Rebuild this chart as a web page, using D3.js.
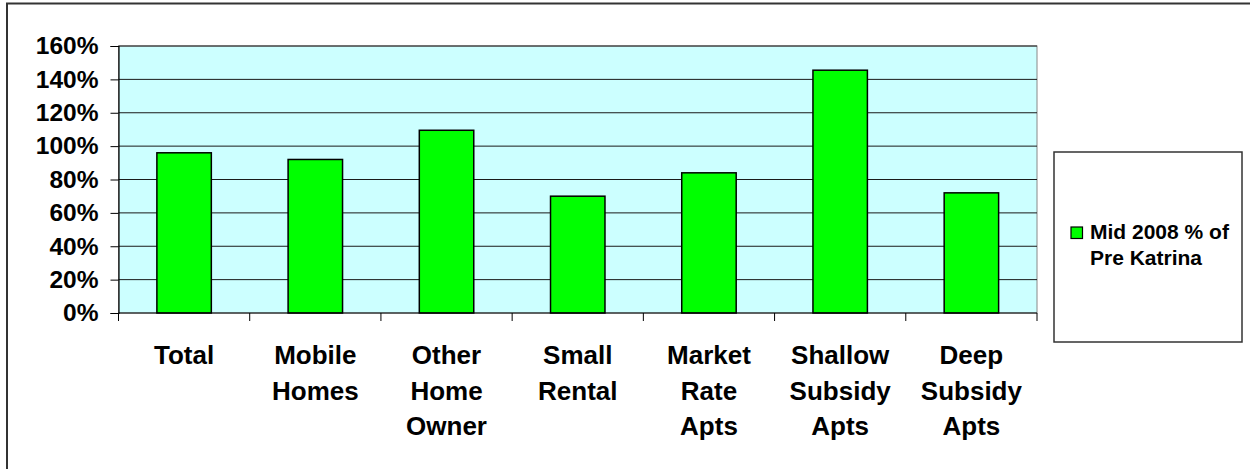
<!DOCTYPE html>
<html>
<head>
<meta charset="utf-8">
<script src="https://cdn.jsdelivr.net/npm/d3@7"></script>
<style>
  body { margin: 0; background: #fff; }
  text { font-family: "Liberation Sans", Arial, sans-serif; font-weight: bold; fill: #000; }
</style>
</head>
<body>
<script>
// chart data
var categories = ["Total", "Mobile Homes", "Other Home Owner", "Small Rental",
                  "Market Rate Apts", "Shallow Subsidy Apts", "Deep Subsidy Apts"];
var labelLines = [["Total"], ["Mobile", "Homes"], ["Other", "Home", "Owner"], ["Small", "Rental"],
                  ["Market", "Rate", "Apts"], ["Shallow", "Subsidy", "Apts"], ["Deep", "Subsidy", "Apts"]];
var values = [0.96, 0.92, 1.095, 0.70, 0.84, 1.455, 0.72];
var yTicks = [0, 0.2, 0.4, 0.6, 0.8, 1.0, 1.2, 1.4, 1.6];
var seriesName = ["Mid 2008 % of", "Pre Katrina"];

var width = 1250, height = 469;
var plot = {left: 118.5, top: 46, right: 1037, bottom: 313};

var svg = d3.select("body").append("svg")
    .attr("width", width)
    .attr("height", height);

// outer frame
svg.append("rect")
    .attr("x", 7).attr("y", 3.5)
    .attr("width", 1300).attr("height", 500)
    .attr("fill", "none")
    .attr("stroke", "#333")
    .attr("stroke-width", 2);

var x = d3.scaleBand()
    .domain(categories)
    .range([plot.left, plot.right])
    .padding(0);

var y = d3.scaleLinear()
    .domain([0, 1.6])
    .range([plot.bottom, plot.top]);

// plot background
svg.append("rect")
    .attr("x", plot.left).attr("y", plot.top)
    .attr("width", plot.right - plot.left)
    .attr("height", plot.bottom - plot.top)
    .attr("fill", "#ccffff")
    .attr("stroke", "#888")
    .attr("stroke-width", 1);

// gridlines
svg.selectAll(".grid")
    .data(yTicks.filter(function(d) { return d > 0; }))
  .enter().append("line")
    .attr("class", "grid")
    .attr("x1", plot.left).attr("x2", plot.right)
    .attr("y1", function(d) { return y(d); })
    .attr("y2", function(d) { return y(d); })
    .attr("stroke", "#1a1a1a")
    .attr("stroke-width", 1);

// bars
var barW = x.bandwidth() * 0.415;
svg.selectAll(".bar")
    .data(values)
  .enter().append("rect")
    .attr("class", "bar")
    .attr("x", function(d, i) { return x(categories[i]) + (x.bandwidth() - barW) / 2; })
    .attr("y", function(d) { return y(d); })
    .attr("width", barW)
    .attr("height", function(d) { return y(0) - y(d); })
    .attr("fill", "#00ff00")
    .attr("stroke", "#000")
    .attr("stroke-width", 1.5);

// y axis
var yAxis = svg.append("g")
    .attr("transform", "translate(" + plot.left + ",0)")
    .call(d3.axisLeft(y)
        .tickValues(yTicks)
        .tickFormat(d3.format(".0%"))
        .tickSize(8)
        .tickPadding(12));
yAxis.select(".domain").attr("stroke", "#000").attr("stroke-width", 1.2);
yAxis.selectAll(".tick line").attr("stroke", "#000");
yAxis.selectAll("text")
    .style("font-size", "24.5px")
    .style("font-weight", "bold")
    .style("font-family", "'Liberation Sans', Arial, sans-serif")
    .attr("fill", "#000");

// x axis line and boundary ticks
svg.append("line")
    .attr("x1", plot.left).attr("x2", plot.right)
    .attr("y1", plot.bottom).attr("y2", plot.bottom)
    .attr("stroke", "#000").attr("stroke-width", 1.2);

var bounds = categories.map(function(c) { return x(c); }).concat([plot.right]);
svg.selectAll(".xtick")
    .data(bounds)
  .enter().append("line")
    .attr("class", "xtick")
    .attr("x1", function(d) { return d; })
    .attr("x2", function(d) { return d; })
    .attr("y1", plot.bottom)
    .attr("y2", plot.bottom + 8)
    .attr("stroke", "#000");

// category labels
var lbl = svg.selectAll(".xlabel")
    .data(labelLines)
  .enter().append("text")
    .attr("class", "xlabel")
    .attr("text-anchor", "middle")
    .style("font-size", "26px");
lbl.selectAll("tspan")
    .data(function(d, i) { return d.map(function(s, j) { return {s: s, i: i, j: j}; }); })
  .enter().append("tspan")
    .attr("x", function(d) { return x(categories[d.i]) + x.bandwidth() / 2; })
    .attr("y", function(d) { return 364 + d.j * 35.5; })
    .text(function(d) { return d.s; });

// legend
var legend = svg.append("g");
legend.append("rect")
    .attr("x", 1054).attr("y", 152)
    .attr("width", 188).attr("height", 190)
    .attr("fill", "#fff")
    .attr("stroke", "#333")
    .attr("stroke-width", 1.5);
legend.append("rect")
    .attr("x", 1071).attr("y", 227)
    .attr("width", 11.5).attr("height", 11.5)
    .attr("fill", "#00ff00")
    .attr("stroke", "#000")
    .attr("stroke-width", 1.2);
legend.selectAll(".ltext")
    .data(seriesName)
  .enter().append("text")
    .attr("class", "ltext")
    .attr("x", 1090)
    .attr("y", function(d, i) { return 239 + i * 26; })
    .style("font-size", "21px")
    .text(function(d) { return d; });
</script>
</body>
</html>
